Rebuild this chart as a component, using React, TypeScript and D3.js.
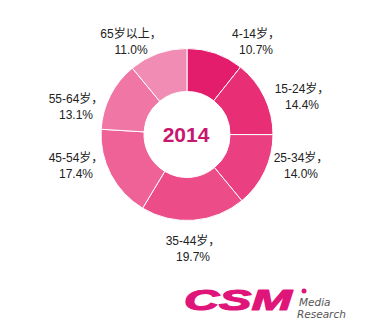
import React from "react";
import * as d3 from "d3";

const categories = ["4-14岁", "15-24岁", "25-34岁", "35-44岁", "45-54岁", "55-64岁", "65岁以上"];
const values = [10.7, 14.4, 14.0, 19.7, 17.4, 13.1, 11.0];
const valueLabels = ["10.7%", "14.4%", "14.0%", "19.7%", "17.4%", "13.1%", "11.0%"];
const colors = ["#e31c6c", "#e82f76", "#ea3f80", "#ec4d89", "#ee6297", "#f077a5", "#f18db4"];
const centerTitle = "2014";

const W = 372, H = 332;
const cx = 187, cy = 134.5;
const outerR = 86, innerR = 43;
const labelPos: [number, number][] = [
  [256, 38], [302, 93], [301, 162], [193, 245], [76, 162], [76, 103], [131, 38],
];

export default function App() {
  const pie = d3.pie<number>().sort(null).value((d) => d);
  const arcs = pie(values);
  const arc = d3.arc<d3.PieArcDatum<number>>().innerRadius(innerR).outerRadius(outerR);
  const font = "'Liberation Sans', Arial, 'Noto Sans CJK SC', sans-serif";
  return (
    <svg width={W} height={H} style={{ position: "absolute", left: 0, top: 0, background: "#fff" }}>
      <g transform={`translate(${cx},${cy})`}>
        {arcs.map((a, i) => (
          <path key={i} d={arc(a) || ""} fill={colors[i]} stroke="#fff" strokeWidth={1} />
        ))}
        <text x={-1} y={7} textAnchor="middle" fontFamily={font} fontWeight="bold" fontSize={21} fill="#c8176e">
          {centerTitle}
        </text>
      </g>
      {categories.map((c, i) => (
        <text key={c} x={labelPos[i][0]} y={labelPos[i][1]} textAnchor="middle" fontFamily={font} fontSize={12} fill="#222">
          <tspan x={labelPos[i][0]} dy={0}>{c}，</tspan>
          <tspan x={labelPos[i][0]} dy={16}>{valueLabels[i]}</tspan>
        </text>
      ))}
      <g>
        <text x={184} y={310} fontFamily={font} fontWeight="900" fontStyle="italic" fontSize={30} fill="#e0157a"
          stroke="#e0157a" strokeWidth={1.2} strokeLinejoin="round"
          textLength={108} lengthAdjust="spacingAndGlyphs">CSM</text>
        <circle cx={304} cy={291} r={2.5} fill="#e0157a" />
        <text x={299} y={306} fontFamily="'DejaVu Sans', sans-serif" fontStyle="italic" fontSize={10.5} fill="#555">Media</text>
        <text x={297} y={318} fontFamily="'DejaVu Sans', sans-serif" fontStyle="italic" fontSize={10.5} fill="#555">Research</text>
      </g>
    </svg>
  );
}
